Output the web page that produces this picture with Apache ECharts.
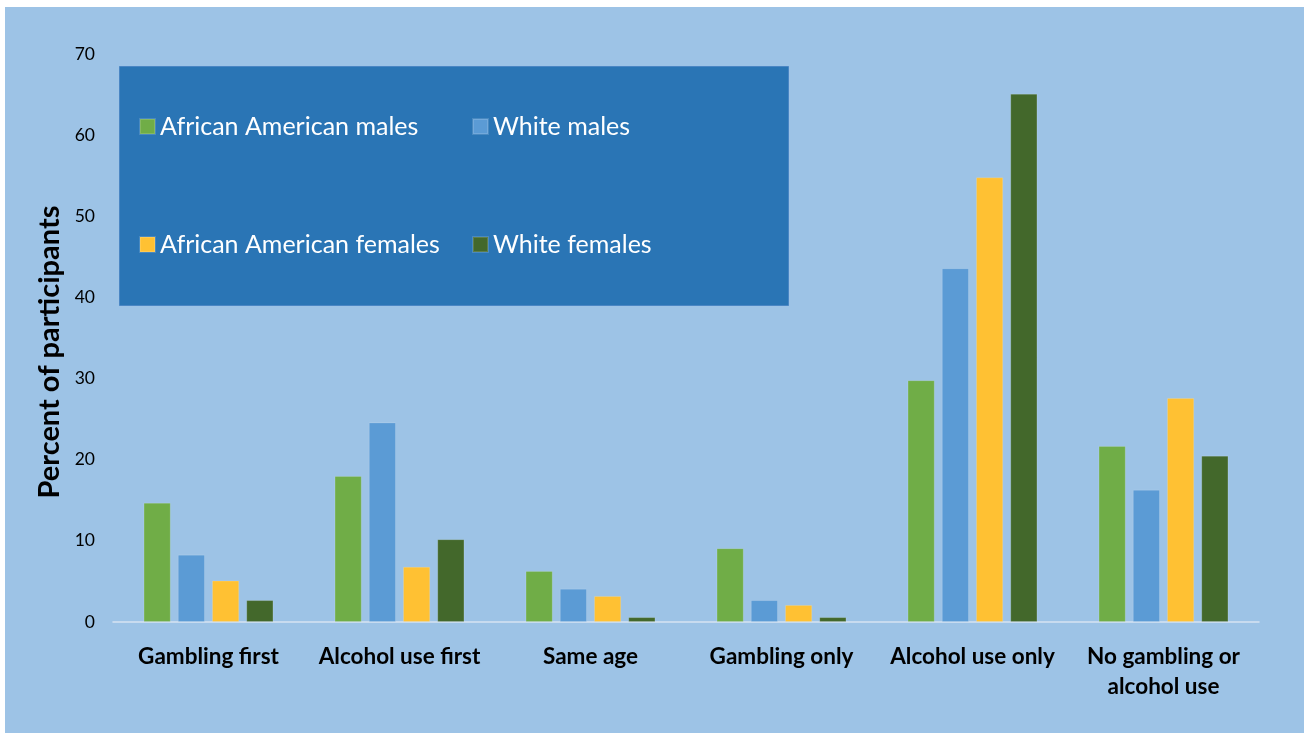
<!DOCTYPE html>
<html>
<head>
<meta charset="utf-8">
<script src="https://cdn.jsdelivr.net/npm/echarts@6/dist/echarts.min.js"></script>
<style>
html,body{margin:0;padding:0;background:#ffffff;}
#chart{position:absolute;left:5px;top:7px;width:1299px;height:726px;}
</style>
</head>
<body>
<div id="chart"></div>
<script>
const categories = ['Gambling first','Alcohol use first','Same age','Gambling only','Alcohol use only','No gambling or\nalcohol use'];
const seriesNames = ['African American males','White males','African American females','White females'];
const aaMales = [14.7, 18.0, 6.3, 9.1, 29.8, 21.7];
const whiteMales = [8.3, 24.6, 4.1, 2.7, 43.6, 16.3];
const aaFemales = [5.1, 6.8, 3.2, 2.1, 54.8, 27.6];
const whiteFemales = [2.7, 10.2, 0.6, 0.6, 65.1, 20.5];
const yTicks = [0,10,20,30,40,50,60,70];
const colors = ['#70AD47','#5B9BD5','#FFC133','#43682B'];

const chart = echarts.init(document.getElementById('chart'));
const FONT = 'Lato, "Open Sans", sans-serif';
const dataSets = [aaMales, whiteMales, aaFemales, whiteFemales];
const legendPos = [[134,107],[467,107],[134,225],[467,225]];
const legends = seriesNames.map((n, i) => ({
  left: legendPos[i][0],
  top: legendPos[i][1],
  padding: 0,
  orient: 'horizontal',
  itemWidth: 15,
  itemHeight: 15,
  itemGap: 6,
  icon: 'rect',
  textStyle: {color:'#ffffff', fontSize: 25, fontFamily: FONT},
  data: [n],
  z: 10
}));
chart.setOption({
  backgroundColor: '#9DC3E6',
  color: colors,
  animation: false,
  graphic: [{
    type: 'rect',
    left: 114, top: 59,
    shape: {width: 669, height: 239},
    style: {fill: '#2A75B5', stroke: '#4A86C4', lineWidth: 1},
    z: 5
  }],
  legend: legends,
  grid: {left: 108, right: 45, top: 47, bottom: 111, containLabel: false},
  xAxis: {
    type: 'category',
    data: categories,
    axisLine: {show: true, lineStyle: {color: '#D6E4F2', width: 1.5}},
    axisTick: {show: false},
    axisLabel: {color: '#000000', fontSize: 22.5, fontWeight: 'bold', fontFamily: FONT, margin: 20, lineHeight: 30, interval: 0}
  },
  yAxis: {
    type: 'value',
    min: 0, max: 70, interval: 10,
    name: 'Percent of participants',
    nameLocation: 'middle',
    nameGap: 47,
    nameTextStyle: {color:'#000000', fontSize: 29, fontWeight: 'bold', fontFamily: FONT, padding: [0,0,0,-28]},
    axisLine: {show: false},
    axisTick: {show: false},
    splitLine: {show: false},
    axisLabel: {color: '#000000', fontSize: 17.5, fontFamily: FONT, margin: 18,
      formatter: function(v){ return yTicks.indexOf(v) >= 0 ? String(v) : ''; }}
  },
  series: dataSets.map((d, i) => ({
    name: seriesNames[i],
    type: 'bar',
    data: d,
    barGap: '26%',
    barCategoryGap: '32%',
    itemStyle: {color: colors[i], borderColor: 'rgba(255,255,255,0.15)', borderWidth: 1}
  }))
});
</script>
</body>
</html>
